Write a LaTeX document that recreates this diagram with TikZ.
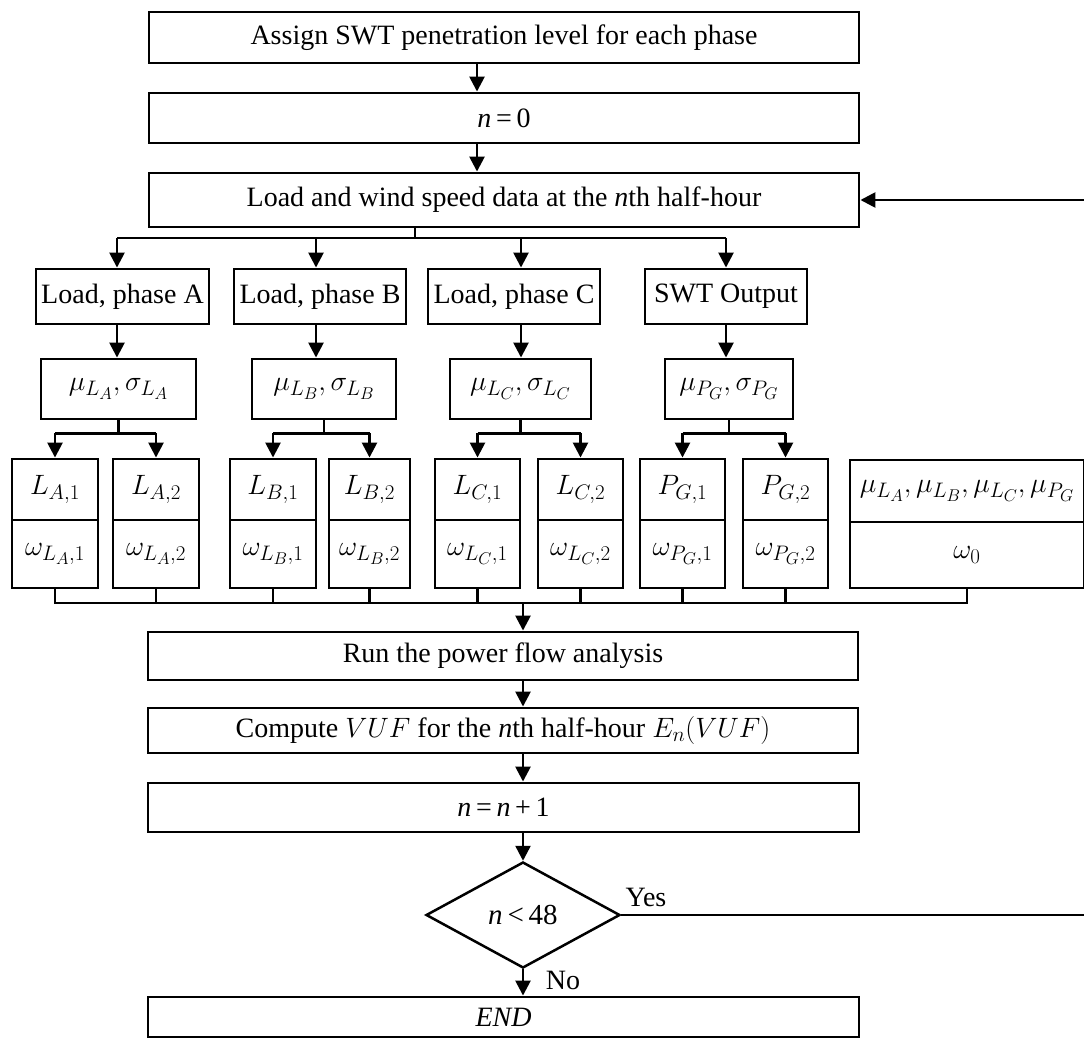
\RequirePackage{fix-cm}
\documentclass[tikz,border=0pt]{standalone}
\usepackage{fontspec}
\setmainfont{Liberation Serif}
\DeclareMathSizes{28}{28}{21}{17}
\usetikzlibrary{arrows.meta,shapes.geometric}
\begin{document}
\begin{tikzpicture}[x=1pt,y=-1pt,
  box/.style={draw, line width=2.9pt, inner sep=0pt, align=center, font=\fontsize{28}{32}\selectfont},
  conn/.style={line width=2.6pt},
  arr/.style={conn, -{Triangle[length=15pt,width=15pt]}},
  lbl/.style={inner sep=0pt, font=\fontsize{28}{32}\selectfont}
]
\useasboundingbox (0,0) rectangle (1084,1040);

% main column
\node[box, minimum width=710pt, minimum height=51pt] (top) at (504,37.5) {Assign SWT penetration level for each phase};
\node[box, minimum width=710pt, minimum height=50pt] (n0) at (504,118) {{\itshape n}\,=\,0};
\node[box, minimum width=710pt, minimum height=54pt] (load) at (504,200) {Load and wind speed data at the {\itshape n}th half-hour};

% first row
\node[box, minimum width=173pt, minimum height=55pt] (la) at (122.5,296.5) {Load, phase A};
\node[box, minimum width=172pt, minimum height=55pt] (lb) at (320,296.5) {Load, phase B};
\node[box, minimum width=172pt, minimum height=55pt] (lc) at (514,296.5) {Load, phase C};
\node[box, minimum width=162pt, minimum height=55pt] (swt) at (726,296.5) {SWT Output};

% mu sigma row
\node[box, minimum width=155pt, minimum height=60pt] (ma) at (118.5,389) {$\mu_{L_A}, \sigma_{L_A}$};
\node[box, minimum width=144pt, minimum height=60pt] (mb) at (324,389) {$\mu_{L_B}, \sigma_{L_B}$};
\node[box, minimum width=141pt, minimum height=60pt] (mc) at (520.5,389) {$\mu_{L_C}, \sigma_{L_C}$};
\node[box, minimum width=128pt, minimum height=60pt] (mp) at (729,389) {$\mu_{P_G}, \sigma_{P_G}$};

% sample boxes (top part)
\node[box, minimum width=86pt, minimum height=61pt] (la1) at (55,489.5) {$L_{A,1}$};
\node[box, minimum width=86pt, minimum height=61pt] (la2) at (156,489.5) {$L_{A,2}$};
\node[box, minimum width=86pt, minimum height=61pt] (lb1) at (273,489.5) {$L_{B,1}$};
\node[box, minimum width=81pt, minimum height=61pt] (lb2) at (369.5,489.5) {$L_{B,2}$};
\node[box, minimum width=85pt, minimum height=61pt] (lc1) at (477.5,489.5) {$L_{C,1}$};
\node[box, minimum width=85pt, minimum height=61pt] (lc2) at (580.5,489.5) {$L_{C,2}$};
\node[box, minimum width=85pt, minimum height=61pt] (pg1) at (682.5,489.5) {$P_{G,1}$};
\node[box, minimum width=85pt, minimum height=61pt] (pg2) at (785.5,489.5) {$P_{G,2}$};
\node[box, minimum width=234pt, minimum height=62pt] (mu0) at (967,491) {$\mu_{L_A}, \mu_{L_B}, \mu_{L_C}, \mu_{P_G}$};

% sample boxes (bottom part)
\node[box, minimum width=86pt, minimum height=68pt] (wa1) at (55,554) {$\omega_{L_A,1}$};
\node[box, minimum width=86pt, minimum height=68pt] (wa2) at (156,554) {$\omega_{L_A,2}$};
\node[box, minimum width=86pt, minimum height=68pt] (wb1) at (273,554) {$\omega_{L_B,1}$};
\node[box, minimum width=81pt, minimum height=68pt] (wb2) at (369.5,554) {$\omega_{L_B,2}$};
\node[box, minimum width=85pt, minimum height=68pt] (wc1) at (477.5,554) {$\omega_{L_C,1}$};
\node[box, minimum width=85pt, minimum height=68pt] (wc2) at (580.5,554) {$\omega_{L_C,2}$};
\node[box, minimum width=85pt, minimum height=68pt] (wp1) at (682.5,554) {$\omega_{P_G,1}$};
\node[box, minimum width=85pt, minimum height=68pt] (wp2) at (785.5,554) {$\omega_{P_G,2}$};
\node[box, minimum width=234pt, minimum height=66pt] (w0) at (967,555) {$\omega_0$};

% lower column
\node[box, minimum width=710pt, minimum height=48pt] (run) at (503,656) {Run the power flow analysis};
\node[box, minimum width=710pt, minimum height=45pt] (cmp) at (503,730.5) {Compute $VUF$ for the {\itshape n}th half-hour $E_n(VUF)$};
\node[box, minimum width=711pt, minimum height=49pt] (inc) at (503.5,807.5) {{\itshape n}\,=\,{\itshape n}\,+\,1};
\node[draw, diamond, line width=2.5pt, inner sep=0pt, minimum width=194pt, minimum height=106pt, font=\fontsize{29}{32}\selectfont] (dec) at (523,915) {{\itshape n}\,<\,48};
\node[box, minimum width=711pt, minimum height=40pt] (fin) at (503.5,1017) {{\itshape END}};

\node[lbl] (yes) at (646,897) {Yes};
\node[lbl] (no) at (563,980) {No};

% helper coordinates
\coordinate (tx) at (477,0);
\coordinate (sx) at (523,0);
\coordinate (splitL) at (415,238);
\coordinate (cA) at (117,0);
\coordinate (cB) at (316,0);
\coordinate (cC) at (521,0);
\coordinate (cD) at (726,0);
\coordinate (coll) at (523,603);
\coordinate (fbin) at (1084,200);
\coordinate (yesout) at (1084,915);

% top connectors
\draw[arr] (top.south -| tx) -- (n0.north -| tx);
\draw[arr] (n0.south -| tx) -- (load.north -| tx);
\draw[conn] (load.south -| splitL) -- (splitL);
\draw[conn] (splitL -| cA) -- (splitL -| cD);
\foreach \X/\B/\M in {cA/la/ma, cB/lb/mb, cC/lc/mc, cD/swt/mp}{
  \draw[arr] (splitL -| \X) -- (\B.north -| \X);
  \draw[arr] (\B.south -| \X) -- (\M.north -| \X);
}

% mu sigma splits
\foreach \M/\P/\Q in {ma/la1/la2, mb/lb1/lb2, mc/lc1/lc2, mp/pg1/pg2}{
  \path (\M.south) ++(0,13) coordinate (j\M);
  \draw[conn] (\M.south) -- (j\M);
  \draw[conn] (j\M -| \P.north) -- (j\M -| \Q.north);
  \draw[arr] (j\M -| \P.north) -- (\P.north);
  \draw[arr] (j\M -| \Q.north) -- (\Q.north);
}

% collector
\draw[conn] (wa1.south) -- (wa1.south |- coll) -- (w0.south |- coll) -- (w0.south);
\foreach \W in {wa2, wb1, wb2, wc1, wc2, wp1, wp2}{
  \draw[conn] (\W.south) -- (\W.south |- coll);
}
\draw[arr] (coll) -- (run.north -| coll);

% bottom connectors
\draw[arr] (run.south -| sx) -- (cmp.north -| sx);
\draw[arr] (cmp.south -| sx) -- (inc.north -| sx);
\draw[arr] (inc.south -| sx) -- (dec.north);
\draw[arr] (dec.south) -- (fin.north -| sx);

% loop back
\draw[conn] (dec.east) -- (yesout);
\draw[arr] (fbin) -- (load.east);
\end{tikzpicture}
\end{document}
